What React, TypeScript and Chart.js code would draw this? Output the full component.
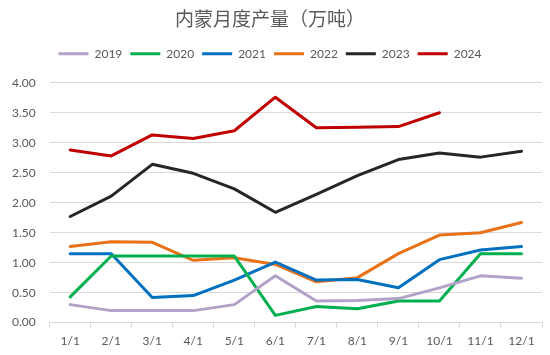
import React, { useEffect, useRef } from "react";
import { Chart, registerables } from "chart.js";

Chart.register(...registerables);

const title = "内蒙月度产量（万吨）";
const categories = ["1/1", "2/1", "3/1", "4/1", "5/1", "6/1", "7/1", "8/1", "9/1", "10/1", "11/1", "12/1"];
const seriesNames = ["2019", "2020", "2021", "2022", "2023", "2024"];
const s2019 = [0.30, 0.20, 0.20, 0.20, 0.30, 0.78, 0.36, 0.37, 0.40, 0.58, 0.78, 0.74];
const s2020 = [0.43, 1.11, 1.11, 1.11, 1.11, 0.12, 0.27, 0.23, 0.36, 0.36, 1.15, 1.15];
const s2021 = [1.15, 1.15, 0.42, 0.45, 0.71, 1.01, 0.71, 0.72, 0.58, 1.05, 1.21, 1.27];
const s2022 = [1.27, 1.35, 1.34, 1.04, 1.08, 0.97, 0.68, 0.75, 1.15, 1.46, 1.50, 1.67];
const s2023 = [1.77, 2.11, 2.64, 2.49, 2.23, 1.84, 2.14, 2.45, 2.72, 2.83, 2.76, 2.86];
const s2024 = [2.88, 2.78, 3.13, 3.07, 3.20, 3.76, 3.25, 3.26, 3.27, 3.50];
const seriesColors = ["#B3A2C7", "#00B050", "#0070C0", "#E97117", "#262626", "#C00000"];
const yTicks = { min: 0, max: 4, step: 0.5 };

const legendMargin = {
  id: "legendMargin",
  beforeInit(chart: any) {
    const orig = chart.legend.fit;
    chart.legend.fit = function () {
      orig.bind(chart.legend)();
      this.height += 13;
    };
  },
};

export default function App() {
  const ref = useRef<HTMLCanvasElement>(null);
  useEffect(() => {
    const values = [s2019, s2020, s2021, s2022, s2023, s2024];
    const chart = new Chart(ref.current!, {
      type: "line",
      data: {
        labels: categories,
        datasets: seriesNames.map((n, i) => ({
          label: n,
          data: values[i],
          borderColor: seriesColors[i],
          backgroundColor: seriesColors[i],
          borderWidth: 3,
          pointRadius: 0,
          tension: 0,
          borderJoinStyle: "round" as const,
          borderCapStyle: "round" as const,
        })),
      },
      plugins: [legendMargin],
      options: {
        animation: false,
        responsive: false,
        layout: { padding: { left: -2, right: 8, top: 0, bottom: 1 } },
        plugins: {
          title: {
            display: true,
            text: title,
            color: "#595959",
            font: { family: "'Noto Sans CJK SC'", size: 19, weight: "normal" },
            padding: { top: 7, bottom: 10 },
          },
          legend: {
            position: "top",
            labels: {
              boxWidth: 30,
              boxHeight: 3,
              padding: 8,
              color: "#595959",
              font: { family: "Lato", size: 12 },
              generateLabels: (c: any) => {
                const items = Chart.defaults.plugins.legend.labels.generateLabels(c);
                return items.map((it: any) => ({ ...it, lineWidth: 0, fillStyle: seriesColors[it.datasetIndex] }));
              },
            },
          },
          tooltip: { enabled: false },
        },
        scales: {
          x: {
            offset: true,
            grid: { display: true, drawOnChartArea: false, drawTicks: true, tickLength: 5, offset: true, color: "#D9D9D9" },
            border: { display: true, color: "#D9D9D9" },
            ticks: { color: "#595959", font: { family: "Lato", size: 12 }, padding: 6, maxRotation: 0, autoSkip: false },
          },
          y: {
            min: yTicks.min,
            max: yTicks.max,
            grid: { color: "#D9D9D9", drawTicks: false },
            border: { display: false },
            ticks: {
              stepSize: yTicks.step,
              color: "#595959",
              font: { family: "Lato", size: 12 },
              padding: 14,
              callback: (v: any) => Number(v).toFixed(2),
            },
          },
        },
      },
    });
    return () => chart.destroy();
  }, []);
  return (
    <div style={{ position: "absolute", left: 0, top: 0, width: 550, height: 355, background: "#fff" }}>
      <canvas ref={ref} width={550} height={355} />
    </div>
  );
}
